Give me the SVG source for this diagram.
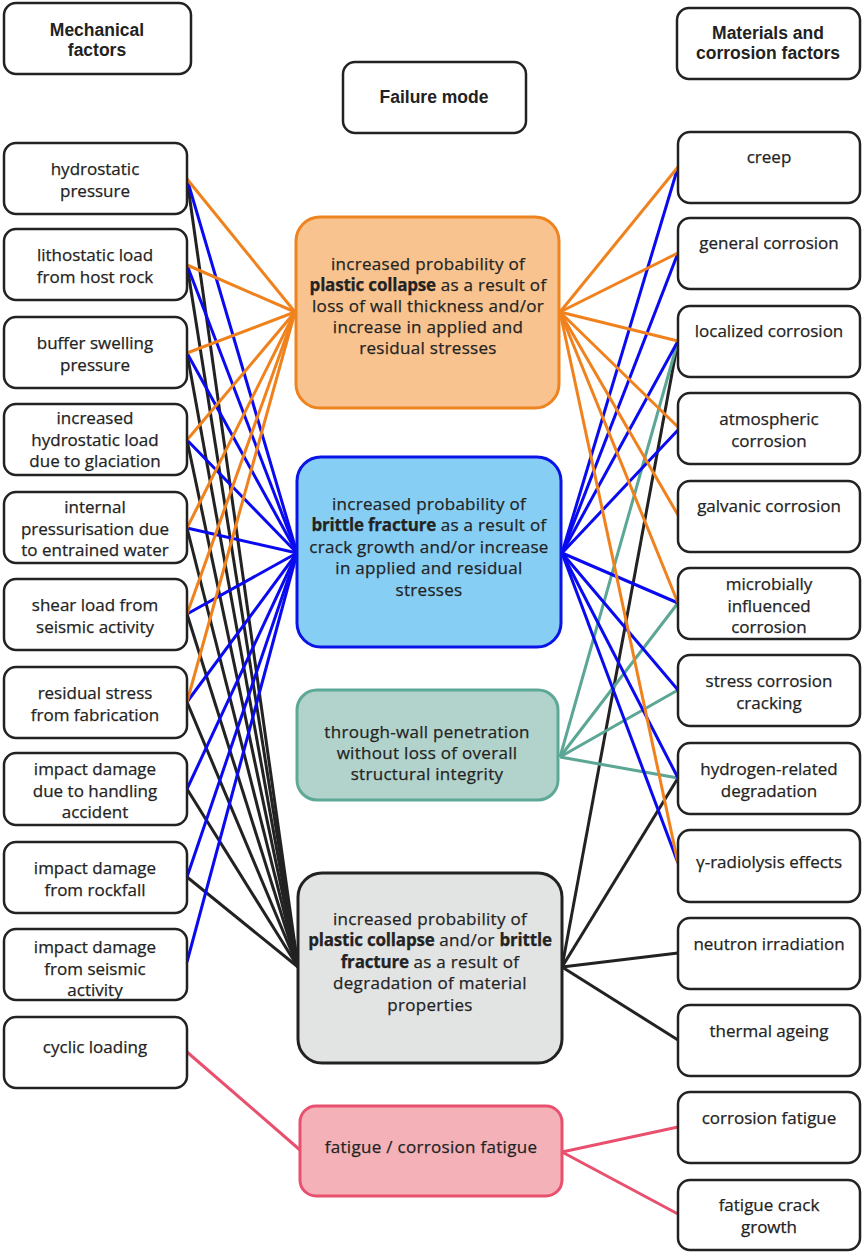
<svg xmlns="http://www.w3.org/2000/svg" width="865" height="1254" viewBox="0 0 865 1254">
<style>
.bg{fill:#ffffff}
.box{fill:#ffffff;stroke:#222222;stroke-width:2.5}
.t{font-family:"Open Sans","Liberation Sans",sans-serif;font-size:17px;fill:#232323;stroke:#232323;stroke-width:0.25;text-anchor:middle}
.c{font-family:"Open Sans","Liberation Sans",sans-serif;font-size:17px;letter-spacing:0.3px;fill:#232323;stroke:#232323;stroke-width:0.25;text-anchor:middle}
.h{font-family:"Liberation Sans",Arial,sans-serif;font-size:17.5px;font-weight:bold;fill:#222222;text-anchor:middle}
.b{font-weight:bold;letter-spacing:-0.2px}
.or{stroke:#F0821E;stroke-width:3;fill:none}
.bl{stroke:#0A0AF0;stroke-width:3;fill:none}
.tl{stroke:#5BA695;stroke-width:3;fill:none}
.bk{stroke:#222222;stroke-width:3;fill:none}
.pk{stroke:#E8506E;stroke-width:3;fill:none}
</style>
<rect class="bg" x="0" y="0" width="865" height="1254"/>

<g id="connectors">
<g class="bk">
<line x1="298" y1="967" x2="187" y2="179"/>
<line x1="298" y1="967" x2="187" y2="265"/>
<line x1="298" y1="967" x2="187" y2="353"/>
<line x1="298" y1="967" x2="187" y2="440"/>
<line x1="298" y1="967" x2="187" y2="528"/>
<line x1="298" y1="967" x2="187" y2="614"/>
<line x1="298" y1="967" x2="187" y2="702"/>
<line x1="298" y1="967" x2="187" y2="789"/>
<line x1="298" y1="967" x2="187" y2="877"/>
</g>
<g class="bl">
<line x1="297" y1="553" x2="187" y2="179"/>
<line x1="297" y1="553" x2="187" y2="265"/>
<line x1="297" y1="553" x2="187" y2="353"/>
<line x1="297" y1="553" x2="187" y2="440"/>
<line x1="297" y1="553" x2="187" y2="528"/>
<line x1="297" y1="553" x2="187" y2="614"/>
<line x1="297" y1="553" x2="187" y2="702"/>
<line x1="297" y1="553" x2="187" y2="789"/>
<line x1="297" y1="553" x2="187" y2="877"/>
<line x1="297" y1="553" x2="187" y2="962"/>
</g>
<g class="or">
<line x1="295" y1="312" x2="187" y2="179"/>
<line x1="295" y1="312" x2="187" y2="265"/>
<line x1="295" y1="312" x2="187" y2="353"/>
<line x1="295" y1="312" x2="187" y2="440"/>
<line x1="295" y1="312" x2="187" y2="528"/>
<line x1="295" y1="312" x2="187" y2="614"/>
<line x1="295" y1="312" x2="187" y2="702"/>
</g>
<g class="bk">
<line x1="562" y1="967" x2="678" y2="341"/>
<line x1="562" y1="967" x2="678" y2="778"/>
<line x1="562" y1="967" x2="678" y2="953"/>
<line x1="562" y1="967" x2="678" y2="1040"/>
</g>
<g class="tl">
<line x1="560" y1="757" x2="678" y2="341"/>
<line x1="560" y1="757" x2="678" y2="603"/>
<line x1="560" y1="757" x2="678" y2="690"/>
<line x1="560" y1="757" x2="678" y2="778"/>
</g>
<g class="bl">
<line x1="562" y1="553" x2="678" y2="167"/>
<line x1="562" y1="553" x2="678" y2="253"/>
<line x1="562" y1="553" x2="678" y2="341"/>
<line x1="562" y1="553" x2="678" y2="430"/>
<line x1="562" y1="553" x2="678" y2="603"/>
<line x1="562" y1="553" x2="678" y2="690"/>
<line x1="562" y1="553" x2="678" y2="778"/>
<line x1="562" y1="553" x2="678" y2="863"/>
</g>
<g class="or">
<line x1="560" y1="312" x2="678" y2="167"/>
<line x1="560" y1="312" x2="678" y2="253"/>
<line x1="560" y1="312" x2="678" y2="341"/>
<line x1="560" y1="312" x2="678" y2="427"/>
<line x1="560" y1="312" x2="678" y2="515"/>
<line x1="560" y1="312" x2="678" y2="603"/>
<line x1="560" y1="312" x2="678" y2="863"/>
</g>
<g class="pk">
<line x1="187" y1="1052" x2="300" y2="1150"/>
<line x1="562" y1="1152" x2="678" y2="1127"/>
<line x1="562" y1="1152" x2="678" y2="1214"/>
</g>
</g>

<g id="hdr-mechanical">
<rect class="box" x="4" y="3" width="187" height="71" rx="12"/>
<text class="h" x="97" y="36">Mechanical</text>
<text class="h" x="97" y="56">factors</text>
</g>
<g id="hdr-failure">
<rect class="box" x="343" y="62" width="183" height="71" rx="12"/>
<text class="h" x="434" y="103">Failure mode</text>
</g>
<g id="hdr-materials">
<rect class="box" x="677" y="8" width="183" height="71" rx="12"/>
<text class="h" x="768" y="39">Materials and</text>
<text class="h" x="768" y="59">corrosion factors</text>
</g>

<g id="m-hydrostatic"><rect class="box" x="4" y="143" width="183" height="71" rx="12"/><text class="t" x="95" y="175">hydrostatic</text><text class="t" x="95" y="197">pressure</text></g>
<g id="m-lithostatic"><rect class="box" x="4" y="229" width="183" height="71" rx="12"/><text class="t" x="95" y="261">lithostatic load</text><text class="t" x="95" y="283">from host rock</text></g>
<g id="m-buffer"><rect class="box" x="4" y="317" width="183" height="71" rx="12"/><text class="t" x="95" y="349">buffer swelling</text><text class="t" x="95" y="371">pressure</text></g>
<g id="m-glaciation"><rect class="box" x="4" y="404" width="183" height="71" rx="12"/><text class="t" x="95" y="424">increased</text><text class="t" x="95" y="446">hydrostatic load</text><text class="t" x="95" y="467">due to glaciation</text></g>
<g id="m-internal"><rect class="box" x="4" y="492" width="183" height="71" rx="12"/><text class="t" x="95" y="513">internal</text><text class="t" x="95" y="535">pressurisation due</text><text class="t" x="95" y="556">to entrained water</text></g>
<g id="m-shear"><rect class="box" x="4" y="579" width="183" height="71" rx="12"/><text class="t" x="95" y="611">shear load from</text><text class="t" x="95" y="633">seismic activity</text></g>
<g id="m-residual"><rect class="box" x="4" y="667" width="183" height="71" rx="12"/><text class="t" x="95" y="699">residual stress</text><text class="t" x="95" y="721">from fabrication</text></g>
<g id="m-handling"><rect class="box" x="4" y="753" width="183" height="72" rx="12"/><text class="t" x="95" y="775">impact damage</text><text class="t" x="95" y="797">due to handling</text><text class="t" x="95" y="818">accident</text></g>
<g id="m-rockfall"><rect class="box" x="4" y="842" width="183" height="71" rx="12"/><text class="t" x="95" y="874">impact damage</text><text class="t" x="95" y="896">from rockfall</text></g>
<g id="m-seismic"><rect class="box" x="4" y="929" width="183" height="71" rx="12"/><text class="t" x="95" y="953">impact damage</text><text class="t" x="95" y="975">from seismic</text><text class="t" x="95" y="996">activity</text></g>
<g id="m-cyclic"><rect class="box" x="4" y="1017" width="183" height="71" rx="12"/><text class="t" x="95" y="1053">cyclic loading</text></g>

<g id="f-plastic">
<rect x="296" y="217" width="263" height="191" rx="24" fill="#F8C38E" stroke="#EE8420" stroke-width="3"/>
<text class="c" x="428" y="270">increased probability of</text>
<text class="c" x="428" y="291"><tspan class="b">plastic collapse</tspan> as a result of</text>
<text class="c" x="428" y="312">loss of wall thickness and/or</text>
<text class="c" x="428" y="333">increase in applied and</text>
<text class="c" x="428" y="354">residual stresses</text>
</g>
<g id="f-brittle">
<rect x="297" y="457" width="264" height="190" rx="24" fill="#87CEF5" stroke="#0A14E6" stroke-width="3"/>
<text class="c" x="429" y="510">increased probability of</text>
<text class="c" x="429" y="531"><tspan class="b">brittle fracture</tspan> as a result of</text>
<text class="c" x="429" y="553">crack growth and/or increase</text>
<text class="c" x="429" y="574">in applied and residual</text>
<text class="c" x="429" y="596">stresses</text>
</g>
<g id="f-through">
<rect x="297" y="690" width="261" height="110" rx="20" fill="#B2D3CB" stroke="#5EA898" stroke-width="3"/>
<text class="c" x="427" y="738">through-wall penetration</text>
<text class="c" x="427" y="759">without loss of overall</text>
<text class="c" x="427" y="780">structural integrity</text>
</g>
<g id="f-degradation">
<rect x="298" y="873" width="264" height="190" rx="24" fill="#E2E3E3" stroke="#222222" stroke-width="3"/>
<text class="c" x="430" y="925">increased probability of</text>
<text class="c" x="430" y="946"><tspan class="b">plastic collapse</tspan> and/or <tspan class="b">brittle</tspan></text>
<text class="c" x="430" y="968"><tspan class="b">fracture</tspan> as a result of</text>
<text class="c" x="430" y="989">degradation of material</text>
<text class="c" x="430" y="1011">properties</text>
</g>
<g id="f-fatigue">
<rect x="300" y="1106" width="262" height="90" rx="16" fill="#F4B2B8" stroke="#E8506E" stroke-width="3"/>
<text class="c" x="431" y="1153">fatigue / corrosion fatigue</text>
</g>

<g id="r-creep"><rect class="box" x="678" y="132" width="182" height="71" rx="12"/><text class="t" x="769" y="163">creep</text></g>
<g id="r-general"><rect class="box" x="678" y="218" width="182" height="71" rx="12"/><text class="t" x="769" y="249">general corrosion</text></g>
<g id="r-localized"><rect class="box" x="678" y="306" width="182" height="71" rx="12"/><text class="t" x="769" y="337">localized corrosion</text></g>
<g id="r-atmospheric"><rect class="box" x="678" y="393" width="182" height="71" rx="12"/><text class="t" x="769" y="425">atmospheric</text><text class="t" x="769" y="447">corrosion</text></g>
<g id="r-galvanic"><rect class="box" x="678" y="481" width="182" height="71" rx="12"/><text class="t" x="769" y="512">galvanic corrosion</text></g>
<g id="r-microbial"><rect class="box" x="678" y="568" width="182" height="71" rx="12"/><text class="t" x="769" y="590">microbially</text><text class="t" x="769" y="612">influenced</text><text class="t" x="769" y="633">corrosion</text></g>
<g id="r-scc"><rect class="box" x="678" y="655" width="182" height="71" rx="12"/><text class="t" x="769" y="687">stress corrosion</text><text class="t" x="769" y="709">cracking</text></g>
<g id="r-hydrogen"><rect class="box" x="678" y="743" width="182" height="71" rx="12"/><text class="t" x="769" y="775">hydrogen-related</text><text class="t" x="769" y="797">degradation</text></g>
<g id="r-radiolysis"><rect class="box" x="678" y="830" width="182" height="72" rx="12"/><text class="t" x="769" y="868">γ-radiolysis effects</text></g>
<g id="r-neutron"><rect class="box" x="678" y="918" width="182" height="71" rx="12"/><text class="t" x="769" y="950">neutron irradiation</text></g>
<g id="r-thermal"><rect class="box" x="678" y="1005" width="182" height="71" rx="12"/><text class="t" x="769" y="1037">thermal ageing</text></g>
<g id="r-corrfatigue"><rect class="box" x="678" y="1092" width="182" height="71" rx="12"/><text class="t" x="769" y="1124">corrosion fatigue</text></g>
<g id="r-crackgrowth"><rect class="box" x="678" y="1180" width="182" height="70" rx="12"/><text class="t" x="769" y="1211">fatigue crack</text><text class="t" x="769" y="1233">growth</text></g>
</svg>
